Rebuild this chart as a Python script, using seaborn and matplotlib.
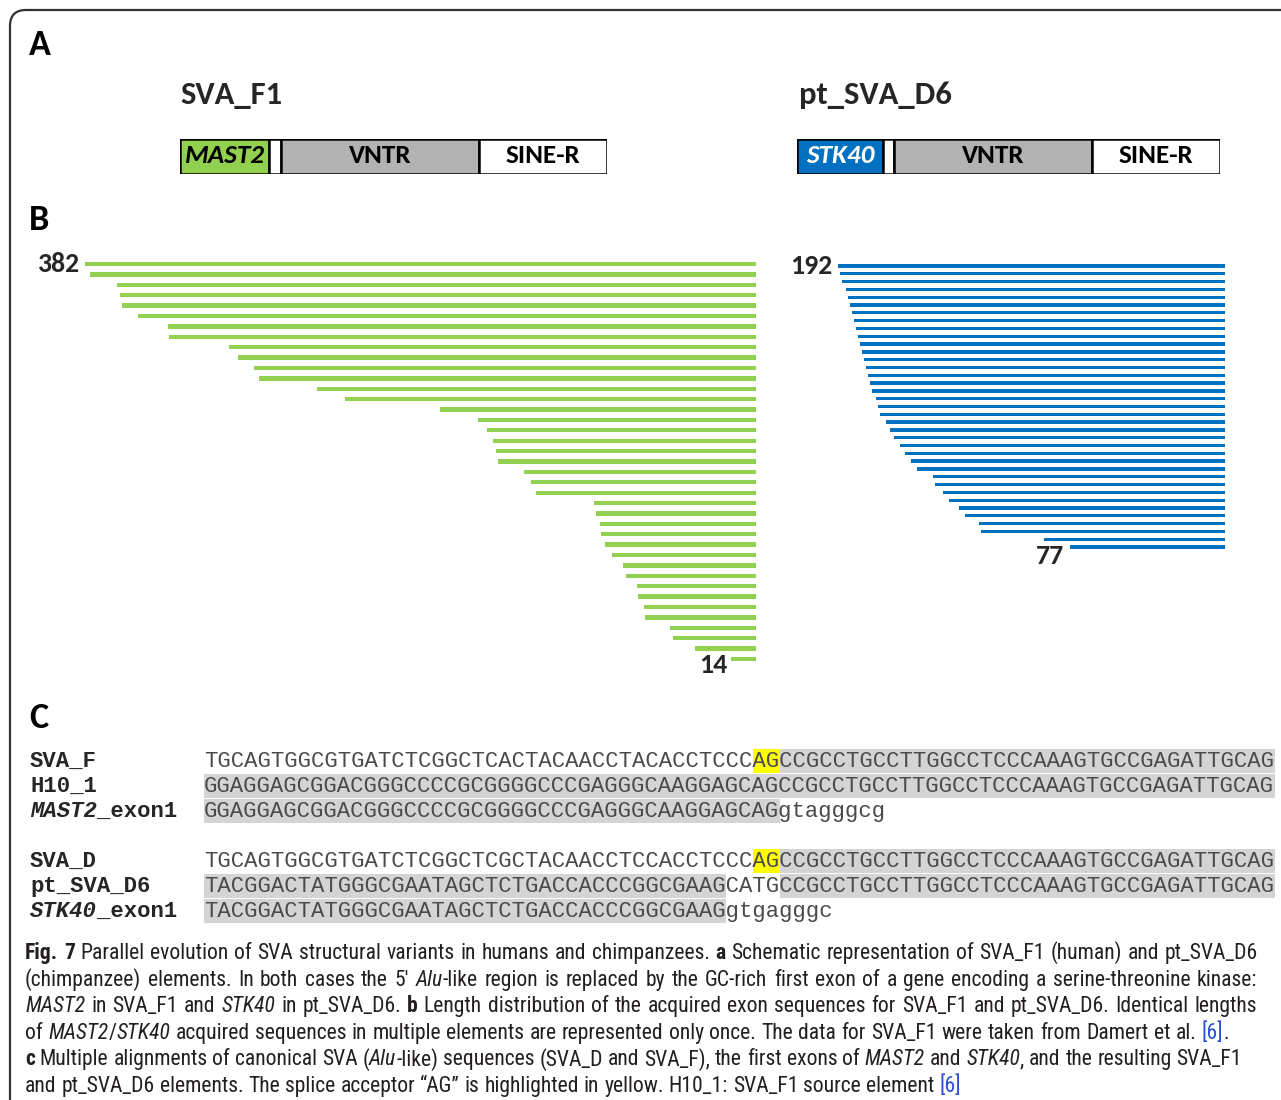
import re
import numpy as np
import pandas as pd
import matplotlib
matplotlib.use('Agg')
import matplotlib.pyplot as plt
from matplotlib.patches import Rectangle, FancyBboxPatch
from matplotlib.font_manager import FontProperties, fontManager
import seaborn as sns

# ---- data -------------------------------------------------------------
mast2_lengths = [382, 379, 364, 362, 361, 352, 335, 334, 300, 295, 286, 283, 250,
                 234, 180, 158, 153, 150, 148, 147, 132, 128, 125, 92, 91, 89, 88,
                 86, 82, 76, 74, 68, 67, 64, 63, 49, 47, 35, 14]
stk40_lengths = [192, 191, 190, 188, 187, 186, 185, 184, 183, 182, 181, 180, 179,
                 178, 177, 176, 175, 173, 172, 171, 168, 166, 164, 161, 159, 156,
                 153, 145, 144, 140, 137, 132, 129, 122, 121, 90, 77]

sva_f1_parts = ['MAST2', '', 'VNTR', 'SINE-R']
sva_f1_widths = [89, 12, 198, 128]
pt_d6_parts = ['STK40', '', 'VNTR', 'SINE-R']
pt_d6_widths = [86, 11, 199, 128]

align_names = ['SVA_F', 'H10_1', 'MAST2_exon1', 'SVA_D', 'pt_SVA_D6', 'STK40_exon1']
align_rows = [
    [('TGCAGTGGCGTGATCTCGGCTCACTACAACCTACACCTCCC', ''), ('AG', 'y'),
     ('CCGCCTGCCTTGGCCTCCCAAAGTGCCGAGATTGCAG', 'g')],
    [('GGAGGAGCGGACGGGCCCCGCGGGGCCCGAGGGCAAGGAGCAGCCGCCTGCCTTGGCCTCCCAAAGTGCCGAGATTGCAG', 'g')],
    [('GGAGGAGCGGACGGGCCCCGCGGGGCCCGAGGGCAAGGAGCAG', 'g'), ('gtagggcg', '')],
    [('TGCAGTGGCGTGATCTCGGCTCGCTACAACCTCCACCTCCC', ''), ('AG', 'y'),
     ('CCGCCTGCCTTGGCCTCCCAAAGTGCCGAGATTGCAG', 'g')],
    [('TACGGACTATGGGCGAATAGCTCTGACCACCCGGCGAAG', 'g'), ('CATG', ''),
     ('CCGCCTGCCTTGGCCTCCCAAAGTGCCGAGATTGCAG', 'g')],
    [('TACGGACTATGGGCGAATAGCTCTGACCACCCGGCGAAG', 'g'), ('gtgagggc', '')],
]

caption = [
    [('Fig. 7', 'b'), (' Parallel evolution of SVA structural variants in humans and chimpanzees. ', 'r'),
     ('a', 'b'), (' Schematic representation of SVA_F1 (human) and pt_SVA_D6', 'r')],
    [('(chimpanzee) elements. In both cases the 5\u2032 ', 'r'), ('Alu', 'i'),
     ('-like region is replaced by the GC-rich first exon of a gene encoding a serine-threonine kinase:', 'r')],
    [('MAST2', 'i'), (' in SVA_F1 and ', 'r'), ('STK40', 'i'), (' in pt_SVA_D6. ', 'r'), ('b', 'b'),
     (' Length distribution of the acquired exon sequences for SVA_F1 and pt_SVA_D6. Identical lengths', 'r')],
    [('of ', 'r'), ('MAST2', 'i'), ('/', 'r'), ('STK40', 'i'),
     (' acquired sequences in multiple elements are represented only once. The data for SVA_F1 were taken from Damert et al. ', 'r'),
     ('[6]', 'l'), ('.', 'r')],
    [('c', 'b'), (' Multiple alignments of canonical SVA (', 'r'), ('Alu', 'i'),
     ('-like) sequences (SVA_D and SVA_F), the first exons of ', 'r'), ('MAST2', 'i'), (' and ', 'r'),
     ('STK40', 'i'), (', and the resulting SVA_F1', 'r')],
    [('and pt_SVA_D6 elements. The splice acceptor \u201cAG\u201d is highlighted in yellow. H10_1: SVA_F1 source element ', 'r'),
     ('[6]', 'l')],
]
caption_ends = [1258, 1257, 1257, 1229, 1242, None]

# ---- fonts ------------------------------------------------------------
names = {f.name for f in fontManager.ttflist}


def pick(*cands):
    for c in cands:
        if c in names:
            return c
    return 'DejaVu Sans'


SANS = pick('Carlito', 'Lato', 'Open Sans')
CAPF = pick('Liberation Sans Narrow', 'Roboto Condensed', 'Open Sans Condensed', 'Roboto', 'Lato')
MONO = pick('Liberation Mono', 'DejaVu Sans Mono')

sns.set_theme(style='white')
plt.rcParams['font.family'] = [SANS, 'DejaVu Sans']

GREEN = '#92D050'
BLUE = '#0070C0'
VGRAY = '#B2B2B2'
HGRAY = '#D4D4D4'
YEL = '#FFFF00'

W, H = 1281, 1100
fig = plt.figure(figsize=(W / 100, H / 100), dpi=100, facecolor='white')


def px_axes(x0, y0, x1, y1):
    a = fig.add_axes([x0 / W, 1 - y1 / H, (x1 - x0) / W, (y1 - y0) / H])
    a.patch.set_alpha(0)
    return a


base = px_axes(0, 0, W, H)
base.set_xlim(0, W)
base.set_ylim(H, 0)
base.axis('off')

base.add_patch(FancyBboxPatch((10, 10), 1330, 1160, boxstyle='round,pad=0,rounding_size=16',
                              fill=False, ec='#333333', lw=1.6))

# panel letters
for lab, yb in [('A', 55), ('B', 230), ('C', 728)]:
    base.text(29, yb, lab, fontsize=26, fontweight='bold', va='baseline', color='black')

# ---- panel A: schematics ---------------------------------------------
base.text(180, 104, 'SVA_F1', fontsize=23.5, fontweight='bold', va='baseline')
base.text(799, 104, 'pt_SVA_D6', fontsize=23.5, fontweight='bold', va='baseline')


def schematic(rect, parts, widths, colors, tcolors):
    ax = px_axes(*rect)
    left = np.concatenate([[0], np.cumsum(widths)[:-1]])
    ax.barh(0, widths, left=left, height=1, color=colors, edgecolor='black', linewidth=1.8)
    for p, l, w, tc in zip(parts, left, widths, tcolors):
        if p:
            style = 'italic' if p[-1].isdigit() else 'normal'
            ax.text(l + w / 2, -0.02, p, ha='center', va='center', fontsize=19.5, fontweight='bold',
                    fontstyle=style, color=tc)
    ax.set_xlim(0, sum(widths))
    ax.set_ylim(0.5, -0.5)
    ax.axis('off')


schematic((180, 139, 607, 174), sva_f1_parts, sva_f1_widths,
          [GREEN, 'white', VGRAY, 'white'], ['black'] * 4)
schematic((797, 139, 1220, 174), pt_d6_parts, pt_d6_widths,
          [BLUE, 'white', VGRAY, 'white'], ['white', 'black', 'black', 'black'])

# ---- panel B: length distributions ------------------------------------


def lengths_plot(rect, lengths, color, prefix, lab_off_top, lab_off_bot):
    ax = px_axes(*rect)
    n = len(lengths)
    df = pd.DataFrame({'length': lengths, 'element': [f'{prefix}{i}' for i in range(n)]})
    sns.barplot(data=df, x='length', y='element', orient='h', color=color, saturation=1,
                width=0.42, errorbar=None, linewidth=0, ax=ax)
    ax.set_xlim(max(lengths), 0)
    ax.set_ylim(n - 0.5, -0.5)
    ax.axis('off')
    ax.annotate(str(lengths[0]), (lengths[0], 0), xytext=lab_off_top, textcoords='offset points',
                ha='right', va='center', fontsize=20, fontweight='bold')
    ax.annotate(str(lengths[-1]), (lengths[-1], n - 1), xytext=lab_off_bot, textcoords='offset points',
                ha='right', va='center', fontsize=20, fontweight='bold')


lengths_plot((85, 258.8, 756, 664.2), mast2_lengths, GREEN, 'm', (-3.5, 0), (-3, -4.5))
lengths_plot((838, 262.1, 1225, 550.9), stk40_lengths, BLUE, 's', (-4, 0), (-4.3, -6.5))

# ---- panel C: alignments ----------------------------------------------
CW = (1275 - 204) / 80.0
mono_pt = CW / 0.6 * 72 / 100
row_y = [761, 786, 811, 861, 886, 911]
shade = {'g': HGRAY, 'y': YEL}
for name, segs, yc in zip(align_names, align_rows, row_y):
    x = 204
    for s, sh in segs:
        if sh:
            base.add_patch(Rectangle((x, yc - 12.5), len(s) * CW, 24, fc=shade[sh], ec='none', zorder=1))
        x += len(s) * CW
    base.text(204, yc + 6, ''.join(s for s, _ in segs), family=MONO, fontsize=mono_pt,
              va='baseline', color='#4a4a4a', zorder=2)
    if name.endswith('_exon1'):
        gene = name.split('_')[0]
        base.text(30, yc + 6, gene, family=MONO, fontsize=mono_pt, fontweight='bold',
                  fontstyle='italic', va='baseline')
        base.text(30 + len(gene) * CW, yc + 6, '_exon1', family=MONO, fontsize=mono_pt,
                  fontweight='bold', va='baseline')
    else:
        base.text(30, yc + 6, name, family=MONO, fontsize=mono_pt, fontweight='bold', va='baseline')

# ---- caption ---------------------------------------------------------
renderer = fig.canvas.get_renderer()
cap_family = [CAPF, 'DejaVu Sans']


def fprops(style, size):
    return FontProperties(family=cap_family, size=size,
                          weight='bold' if style == 'b' else 'normal',
                          style='italic' if style == 'i' else 'normal')


def tw(s, style, size):
    fp = fprops(style, size)
    w1 = renderer.get_text_width_height_descent('|' + s + '|', fp, ismath=False)[0]
    w0 = renderer.get_text_width_height_descent('||', fp, ismath=False)[0]
    return w1 - w0


def tokens(line):
    out = []
    for s, st in line:
        for piece in re.split(r'( )', s):
            if piece:
                out.append((piece, st))
    return out


ref = 10.0
scale = min((end - 25) / sum(tw(p, st, ref) for p, st in tokens(line))
            for line, end in zip(caption, caption_ends) if end)
cap_size = ref * scale
colors = {'r': '#231F20', 'b': '#231F20', 'i': '#231F20', 'l': '#2A4FD0'}

for k, (line, end) in enumerate(zip(caption, caption_ends)):
    toks = tokens(line)
    widths = [tw(p, st, cap_size) for p, st in toks]
    nsp = sum(1 for p, _ in toks if p == ' ')
    extra = ((end - 25) - sum(widths)) / nsp if (end and nsp) else 0
    x = 25
    yb = 959 + k * 26.6
    for (p, st), w in zip(toks, widths):
        if p == ' ':
            x += w + extra
            continue
        fp = fprops(st, cap_size)
        base.text(x, yb, p, fontproperties=fp, color=colors[st], va='baseline')
        x += w

fig.savefig('out.png', dpi=100, facecolor='white')
